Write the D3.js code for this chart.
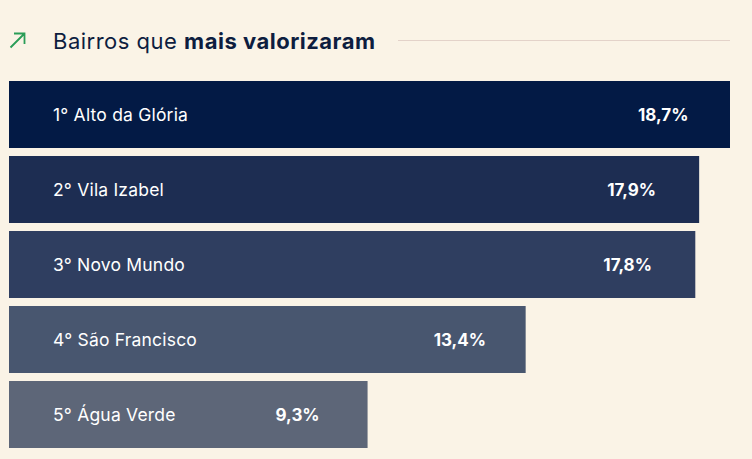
<!DOCTYPE html>
<html><head><meta charset="utf-8">
<script src="https://cdn.jsdelivr.net/npm/d3@7"></script>
<style>
html,body{margin:0;padding:0;background:#faf3e6;}
svg{display:block;font-family:Inter,"Noto Sans",sans-serif;}
</style></head>
<body><svg id="c" width="752" height="459"></svg>
<script>
const ranks = ["1°","2°","3°","4°","5°"];
const names = ["Alto da Glória","Vila Izabel","Novo Mundo","São Francisco","Água Verde"];
const values = [18.7,17.9,17.8,13.4,9.3];
const colors = ["#031a45","#1d2d52","#2f3e60","#48566f","#5d6678"];
const titleRegular = "Bairros que ";
const titleBold = "mais valorizaram";

const svg = d3.select("#c");
svg.append("rect").attr("width",752).attr("height",459).attr("fill","#faf3e6");

// title
const g0 = svg.append("g");
g0.append("path").attr("d","M10.5,47.5 L24.5,33.5 M14,33.5 L24.5,33.5 L24.5,44")
  .attr("fill","none").attr("stroke","#2a9d57").attr("stroke-width",1.8);
const t = g0.append("text").attr("x",53).attr("y",48.5).attr("font-size",22)
  .attr("letter-spacing",0.5).attr("fill","#0d1d3f");
t.append("tspan").text(titleRegular).attr("font-weight",400);
t.append("tspan").text(titleBold).attr("font-weight",700);
g0.append("line").attr("x1",398).attr("x2",730).attr("y1",40.5).attr("y2",40.5)
  .attr("stroke","#e3d2c9").attr("stroke-width",1);

const x = d3.scaleLinear().domain([0,d3.max(values)]).range([9,730]);
const y = d3.scaleBand().domain(d3.range(values.length)).range([81,448]).paddingInner(8/75).paddingOuter(0);

const rows = svg.append("g").selectAll("g").data(values).join("g");
rows.append("rect")
  .attr("x",x(0)).attr("y",(d,i)=>y(i))
  .attr("width",d=>x(d)-x(0)).attr("height",y.bandwidth())
  .attr("fill",(d,i)=>colors[i]);
rows.append("text")
  .attr("x",53).attr("y",(d,i)=>y(i)+y.bandwidth()/2+6.5)
  .attr("font-size",17.5).attr("letter-spacing",0.2).attr("fill","#ffffff")
  .text((d,i)=>ranks[i]+" "+names[i]);
rows.append("text")
  .attr("x",d=>x(d)-92).attr("y",(d,i)=>y(i)+y.bandwidth()/2+6.5)
  .attr("font-size",17).attr("font-weight",700).attr("fill","#ffffff")
  .text(d=>d.toFixed(1).replace(".",",")+"%");
</script></body></html>
